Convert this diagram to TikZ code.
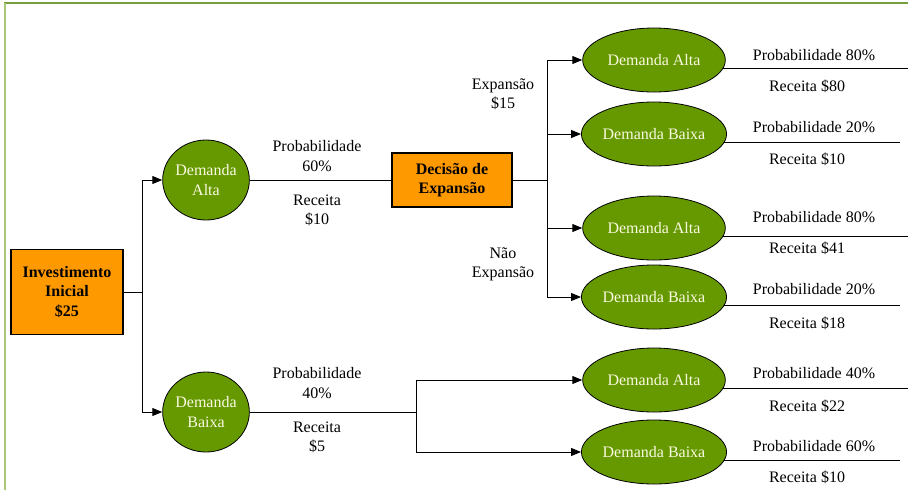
\documentclass[tikz,border=0pt]{standalone}
\usepackage{fontspec}
\setmainfont{Liberation Serif}
\usetikzlibrary{arrows.meta,shapes.geometric}
\definecolor{leaf}{RGB}{102,153,0}
\definecolor{amber}{RGB}{255,153,0}
\definecolor{frametop}{RGB}{119,160,60}
\definecolor{frameleft}{RGB}{170,200,120}
\definecolor{pale}{RGB}{250,250,225}

\begin{document}
\begin{tikzpicture}[x=0.75pt,y=-0.75pt,
  every node/.style={font=\fontsize{12}{14.5}\selectfont, align=center, inner sep=0pt},
  decision/.style={draw=black, fill=amber, font=\fontsize{12}{14.5}\selectfont\bfseries, line width=0.9pt},
  chance/.style={ellipse, draw=black, fill=leaf, text=pale, line width=0.6pt},
  round/.style={chance, minimum width=64.5pt, minimum height=60pt},
  oval/.style={chance, minimum width=107pt, minimum height=48pt},
  link/.style={line width=0.75pt},
  arr/.style={link, -{Triangle[length=7.5pt,width=6pt]}}
]
\useasboundingbox (0,0) rectangle (908,490);

% page frame
\draw[frametop, line width=1.5pt] (4,3) -- (908,3);
\draw[frameleft, line width=2pt] (5,3) -- (5,490);

% decision and chance nodes
\node[decision, minimum width=84pt, minimum height=63.75pt] (inv) at (67,292) {Investimento\\Inicial\\\$25};
\node[round] (da) at (206,180) {Demanda\\Alta};
\node[round] (db) at (206,412) {Demanda\\Baixa};
\node[decision, minimum width=90pt, minimum height=40.5pt] (dec) at (452,180) {Decisão de\\Expansão};

\node[oval] (e1) at (654,60)  {Demanda Alta};
\node[oval] (e2) at (654,134) {Demanda Baixa};
\node[oval] (e3) at (654,228) {Demanda Alta};
\node[oval] (e4) at (654,297) {Demanda Baixa};
\node[oval] (e5) at (654,380) {Demanda Alta};
\node[oval] (e6) at (654,452) {Demanda Baixa};

% branch points
\coordinate (j1) at (142,292);
\coordinate (j2) at (547,180);
\coordinate (j3) at (416,412);
\coordinate (endA) at (908,0);
\coordinate (endB) at (900,0);

% connectors
\draw[link] (inv.east) -- (j1);
\draw[arr] (j1) |- (da.west);
\draw[arr] (j1) |- (db.west);
\draw[link] (da.east) -- (dec.west);
\draw[link] (dec.east) -- (j2);
\draw[arr] (j2) |- (e1.west);
\draw[arr] (j2) |- (e2.west);
\draw[arr] (j2) |- (e3.west);
\draw[arr] (j2) |- (e4.west);
\draw[link] (db.east) -- (j3);
\draw[arr] (j3) |- (e5.west);
\draw[arr] (j3) |- (e6.west);

% payoff lines
\draw[link] (e1.353) -- (e1.353 -| endA);
\draw[link] (e2.353) -- (e2.353 -| endB);
\draw[link] (e3.353) -- (e3.353 -| endA);
\draw[link] (e4.353) -- (e4.353 -| endB);
\draw[link] (e5.353) -- (e5.353 -| endA);
\draw[link] (e6.353) -- (e6.353 -| endB);

% branch labels
\node (p1) at (317,156) {Probabilidade\\60\%};
\node (r1) at (317,210) {Receita\\\$10};
\node (p2) at (317,383) {Probabilidade\\40\%};
\node (r2) at (317,437) {Receita\\\$5};
\node (ex) at (503,94)  {Expansão\\\$15};
\node (nx) at (503,264) {Não\\Expansão};

% payoff labels
\node (q1) at (814,55)  {Probabilidade 80\%};
\node (s1) at (807,86)  {Receita \$80};
\node (q2) at (814,127) {Probabilidade 20\%};
\node (s2) at (807,159) {Receita \$10};
\node (q3) at (814,217) {Probabilidade 80\%};
\node (s3) at (807,248) {Receita \$41};
\node (q4) at (814,289) {Probabilidade 20\%};
\node (s4) at (807,323) {Receita \$18};
\node (q5) at (814,373) {Probabilidade 40\%};
\node (s5) at (807,406) {Receita \$22};
\node (q6) at (814,446) {Probabilidade 60\%};
\node (s6) at (807,477) {Receita \$10};
\end{tikzpicture}
\end{document}
